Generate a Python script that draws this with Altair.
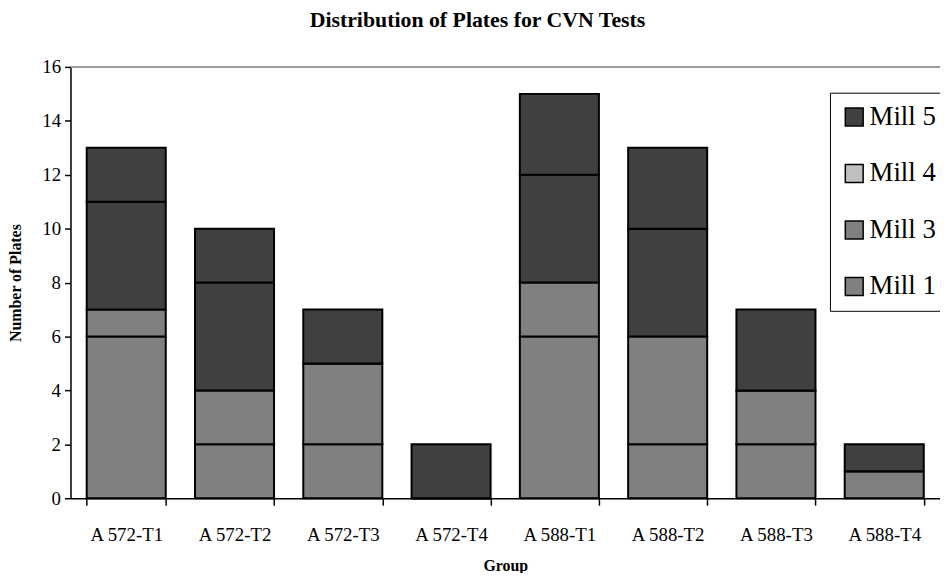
import altair as alt
import pandas as pd

groups = ["A 572-T1", "A 572-T2", "A 572-T3", "A 572-T4",
          "A 588-T1", "A 588-T2", "A 588-T3", "A 588-T4"]
mill_1 = [6, 2, 2, 0, 6, 2, 2, 1]
mill_3 = [1, 2, 3, 0, 2, 4, 2, 0]
mill_4 = [4, 4, 0, 0, 4, 4, 0, 0]
mill_5 = [2, 2, 2, 2, 3, 3, 3, 1]

series_names = ["Mill 1", "Mill 3", "Mill 4", "Mill 5"]
bar_colors = ["#808080", "#808080", "#404040", "#404040"]

legend_names = ["Mill 5", "Mill 4", "Mill 3", "Mill 1"]
legend_colors = ["#404040", "#c0c0c0", "#808080", "#808080"]

y_ticks = [0, 2, 4, 6, 8, 10, 12, 14, 16]

rows = []
for k, (name, vals) in enumerate(zip(series_names, [mill_1, mill_3, mill_4, mill_5])):
    for g, v in zip(groups, vals):
        rows.append({"group": g, "mill": name, "value": v, "ord": k})
df = pd.DataFrame(rows)

FONT = "Liberation Serif"

x_enc = alt.X(
    "group:N", sort=groups,
    scale=alt.Scale(paddingInner=0.27, paddingOuter=0.15),
    axis=alt.Axis(
        title="Group", labelAngle=0, tickBand="extent", tickSize=7, tickWidth=1.5,
        tickColor="black", domainColor="black", domainWidth=1.5,
        labelFont=FONT, labelFontSize=19, labelColor="black", labelPadding=21,
        titleFont=FONT, titleFontSize=16, titleFontWeight="bold", titleColor="black",
        titleY=68, titleBaseline="middle", grid=False,
    ),
)
y_enc = alt.Y(
    "value:Q", stack="zero",
    scale=alt.Scale(domain=[0, 16], nice=False),
    axis=alt.Axis(
        values=y_ticks, title="Number of Plates", tickSize=6, tickWidth=1.5,
        tickColor="black", domainColor="black", domainWidth=1.5,
        labelFont=FONT, labelFontSize=19, labelColor="black", labelPadding=4,
        labelFlush=False,
        titleFont=FONT, titleFontSize=16, titleFontWeight="bold", titleColor="black",
        titleX=-55, titleY=217.5, titleAngle=-90, titleAlign="center",
        titleBaseline="middle", grid=False,
    ),
)

bars = alt.Chart(df).mark_bar(stroke="black", strokeWidth=2).encode(
    x=x_enc,
    y=y_enc,
    fill=alt.Fill("mill:N", scale=alt.Scale(domain=series_names, range=bar_colors), legend=None),
    order=alt.Order("ord:Q", sort="ascending"),
)

top_df = pd.DataFrame({"v": [16]})
top_rule = alt.Chart(top_df).mark_rule(color="#808080", strokeWidth=1.5).encode(
    y=alt.Y("v:Q")
)

leg_df = pd.DataFrame({"mill": legend_names, "group": [groups[0]] * 4, "value": [0] * 4})
legend_layer = alt.Chart(leg_df).mark_square(opacity=0).encode(
    x=alt.X("group:N", sort=groups),
    y=alt.Y("value:Q"),
    color=alt.Color(
        "mill:N",
        scale=alt.Scale(domain=legend_names, range=legend_colors),
        legend=alt.Legend(
            title=None, orient="none", legendX=766, legendY=26,
            strokeColor="black", fillColor="white", padding=11,
            symbolType="square", symbolSize=324, symbolStrokeColor="black",
            symbolStrokeWidth=1.5, symbolOpacity=1,
            labelFont=FONT, labelFontSize=27, labelColor="black",
            labelOffset=2, rowPadding=29,
        ),
    ),
)

chart = alt.layer(bars, top_rule, legend_layer).properties(
    width=877,
    height=435,
    autosize=alt.AutoSizeParams(type="none"),
    padding={"left": 63, "top": 57, "right": 0, "bottom": 73},
    title=alt.TitleParams(
        "Distribution of Plates for CVN Tests", font=FONT, fontSize=22,
        fontWeight="bold", color="black", anchor="middle", dx=-28, offset=9,
        baseline="alphabetic", frame="group",
    ),
).configure_view(stroke=None).configure(background="white")

chart.save("out.html", embed_options={"renderer": "svg", "actions": False})
